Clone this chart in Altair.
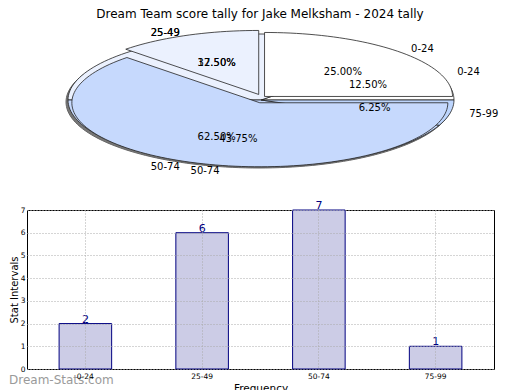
import math
import altair as alt
import pandas as pd

# ---------------- data ----------------
categories = ["0-24", "25-49", "50-74", "75-99"]
counts = [2, 6, 7, 1]
# second (overlaid) pie drawn in the original, shares in percent
pie_a_pct = [25.0, 12.5, 62.5, 0.0]
slice_colors = ["#FFFFFF", "#EBF1FE", "#C6D9FD", "#BDD5FD"]
chart_title = "Dream Team score tally for Jake Melksham - 2024 tally"

total = sum(counts)
pie_b_pct = [100.0 * c / total for c in counts]

# ---------------- pie geometry (ellipse, px units) ----------------
RX, RY = 193, 66
PIE_W, PIE_H = 484, 175
PIE_CX, PIE_CY = 234, 76


def pie_slices(pcts, start_deg, rx, ry, explode):
    """Counter-clockwise wedges starting at start_deg (clockwise-from-top degrees)."""
    feats, labels = [], []
    ang = start_deg
    for cat, p, ex in zip(categories, pcts, explode):
        span = 360.0 * p / 100.0
        a0, a1 = ang - span, ang
        ang = a0
        if p <= 0:
            continue
        mid = math.radians((a0 + a1) / 2)
        ox, oy = ex * math.sin(mid), -ex * math.cos(mid)
        n = max(2, int(span / 2) + 1)
        ring = [[ox, oy]]
        for i in range(n + 1):
            t = math.radians(a0 + (a1 - a0) * i / n)
            ring.append([ox + rx * math.sin(t), oy - ry * math.cos(t)])
        ring.append([ox, oy])
        feats.append({"type": "Feature", "properties": {"cat": cat},
                      "geometry": {"type": "Polygon", "coordinates": [ring]}})
        labels.append({"x": 0.6 * RX * math.sin(mid), "y": -0.6 * RY * math.cos(mid),
                       "t": "%.2f%%" % p, "side": "c"})
        lx = 1.1 * RX * math.sin(mid)
        labels.append({"x": lx, "y": -1.1 * RY * math.cos(mid),
                       "t": cat, "side": "l" if lx > 0 else "r"})
    return feats, labels


def ellipse(rx, ry, ox, oy):
    ring = []
    for i in range(181):
        t = math.radians(2 * i)
        ring.append([ox + rx * math.sin(t), oy - ry * math.cos(t)])
    return [{"type": "Feature", "properties": {"cat": "shadow"},
             "geometry": {"type": "Polygon", "coordinates": [ring]}}]


feats_b, labels_b = pie_slices(pie_b_pct, 90, RX, RY, [0, 0, 0, 0])
feats_a, labels_a = pie_slices(pie_a_pct, 90, 188, 64, [5, 6, 3, 0])
shadow = ellipse(RX, RY, -2, 2)
label_df = pd.DataFrame(labels_b + labels_a)

proj = dict(type="identity", scale=1, translate=[PIE_CX, PIE_CY])
cscale = alt.Scale(domain=categories, range=slice_colors)

shadow_layer = alt.Chart(alt.Data(values=shadow)).mark_geoshape(
    fill="#777777", stroke="#666666", strokeWidth=1).project(**proj)
pie_b_layer = alt.Chart(alt.Data(values=feats_b)).mark_geoshape(
    stroke="#222222", strokeWidth=0.8).encode(
    fill=alt.Color("properties.cat:N", scale=cscale, legend=None)).project(**proj)
pie_a_layer = alt.Chart(alt.Data(values=feats_a)).mark_geoshape(
    stroke="#222222", strokeWidth=0.8).encode(
    fill=alt.Color("properties.cat:N", scale=cscale, legend=None)).project(**proj)

text_layers = []
for side, al in (("c", "center"), ("l", "left"), ("r", "right")):
    text_layers.append(
        alt.Chart(label_df).transform_filter(alt.datum.side == side).mark_text(
            fontSize=10, color="black", align=al, baseline="middle").encode(
            longitude="x:Q", latitude="y:Q", text="t:N").project(**proj))

pie = alt.layer(shadow_layer, pie_b_layer, pie_a_layer, *text_layers).properties(
    width=PIE_W, height=PIE_H,
    title=alt.TitleParams(chart_title, fontSize=12, fontWeight="normal",
                          anchor="middle", offset=3, dx=-9, color="black"))

# ---------------- bar chart ----------------
bar_df = pd.DataFrame({"cat": categories, "count": counts})
xenc = alt.X("cat:N", sort=categories,
             scale=alt.Scale(paddingInner=0.55, paddingOuter=0.275),
             axis=alt.Axis(title="Frequency", labelAngle=0, labelFontSize=7.5,
                           labelPadding=3, ticks=False,
                           domain=False, grid=True, gridDash=[1, 2],
                           gridColor="#AAAAAA", titleFontSize=10.5,
                           titleFontWeight="normal", titlePadding=4, zindex=1))
yenc = alt.Y("count:Q", scale=alt.Scale(domain=[0, 7], nice=False),
             axis=alt.Axis(title="Stat Intervals", values=list(range(8)),
                           format="d", labelFontSize=7.5, labelPadding=2,
                           ticks=False, domain=False,
                           grid=True, gridDash=[1, 2], gridColor="#AAAAAA",
                           titleFontSize=10, titleFontWeight="normal",
                           titleX=-8, zindex=1))

bars = alt.Chart(bar_df).mark_bar(fill="#CCCCE6", stroke="#000080",
                                  strokeWidth=1).encode(x=xenc, y=yenc)
vals = alt.Chart(bar_df).mark_text(color="#000080", fontSize=11,
                                   baseline="bottom", dy=1).encode(
    x=xenc, y=yenc, text="count:Q")
wm = alt.Chart(pd.DataFrame({"t": ["Dream-Stats.com"]})).mark_text(
    align="left", baseline="middle", fontSize=12, fontWeight="normal",
    color="#9A9A9A").encode(text="t:N", x=alt.value(-18), y=alt.value(11 + 159))

barchart = alt.layer(bars, vals, wm).properties(
    width=467, height=159,
    view=alt.ViewBackground(stroke="black", strokeWidth=1))

chart = alt.vconcat(pie, barchart, spacing=0).properties(padding=0).configure(
    font="DejaVu Sans").configure_view(stroke="transparent")

chart.save("out.html", embed_options={"renderer": "svg", "actions": False})
